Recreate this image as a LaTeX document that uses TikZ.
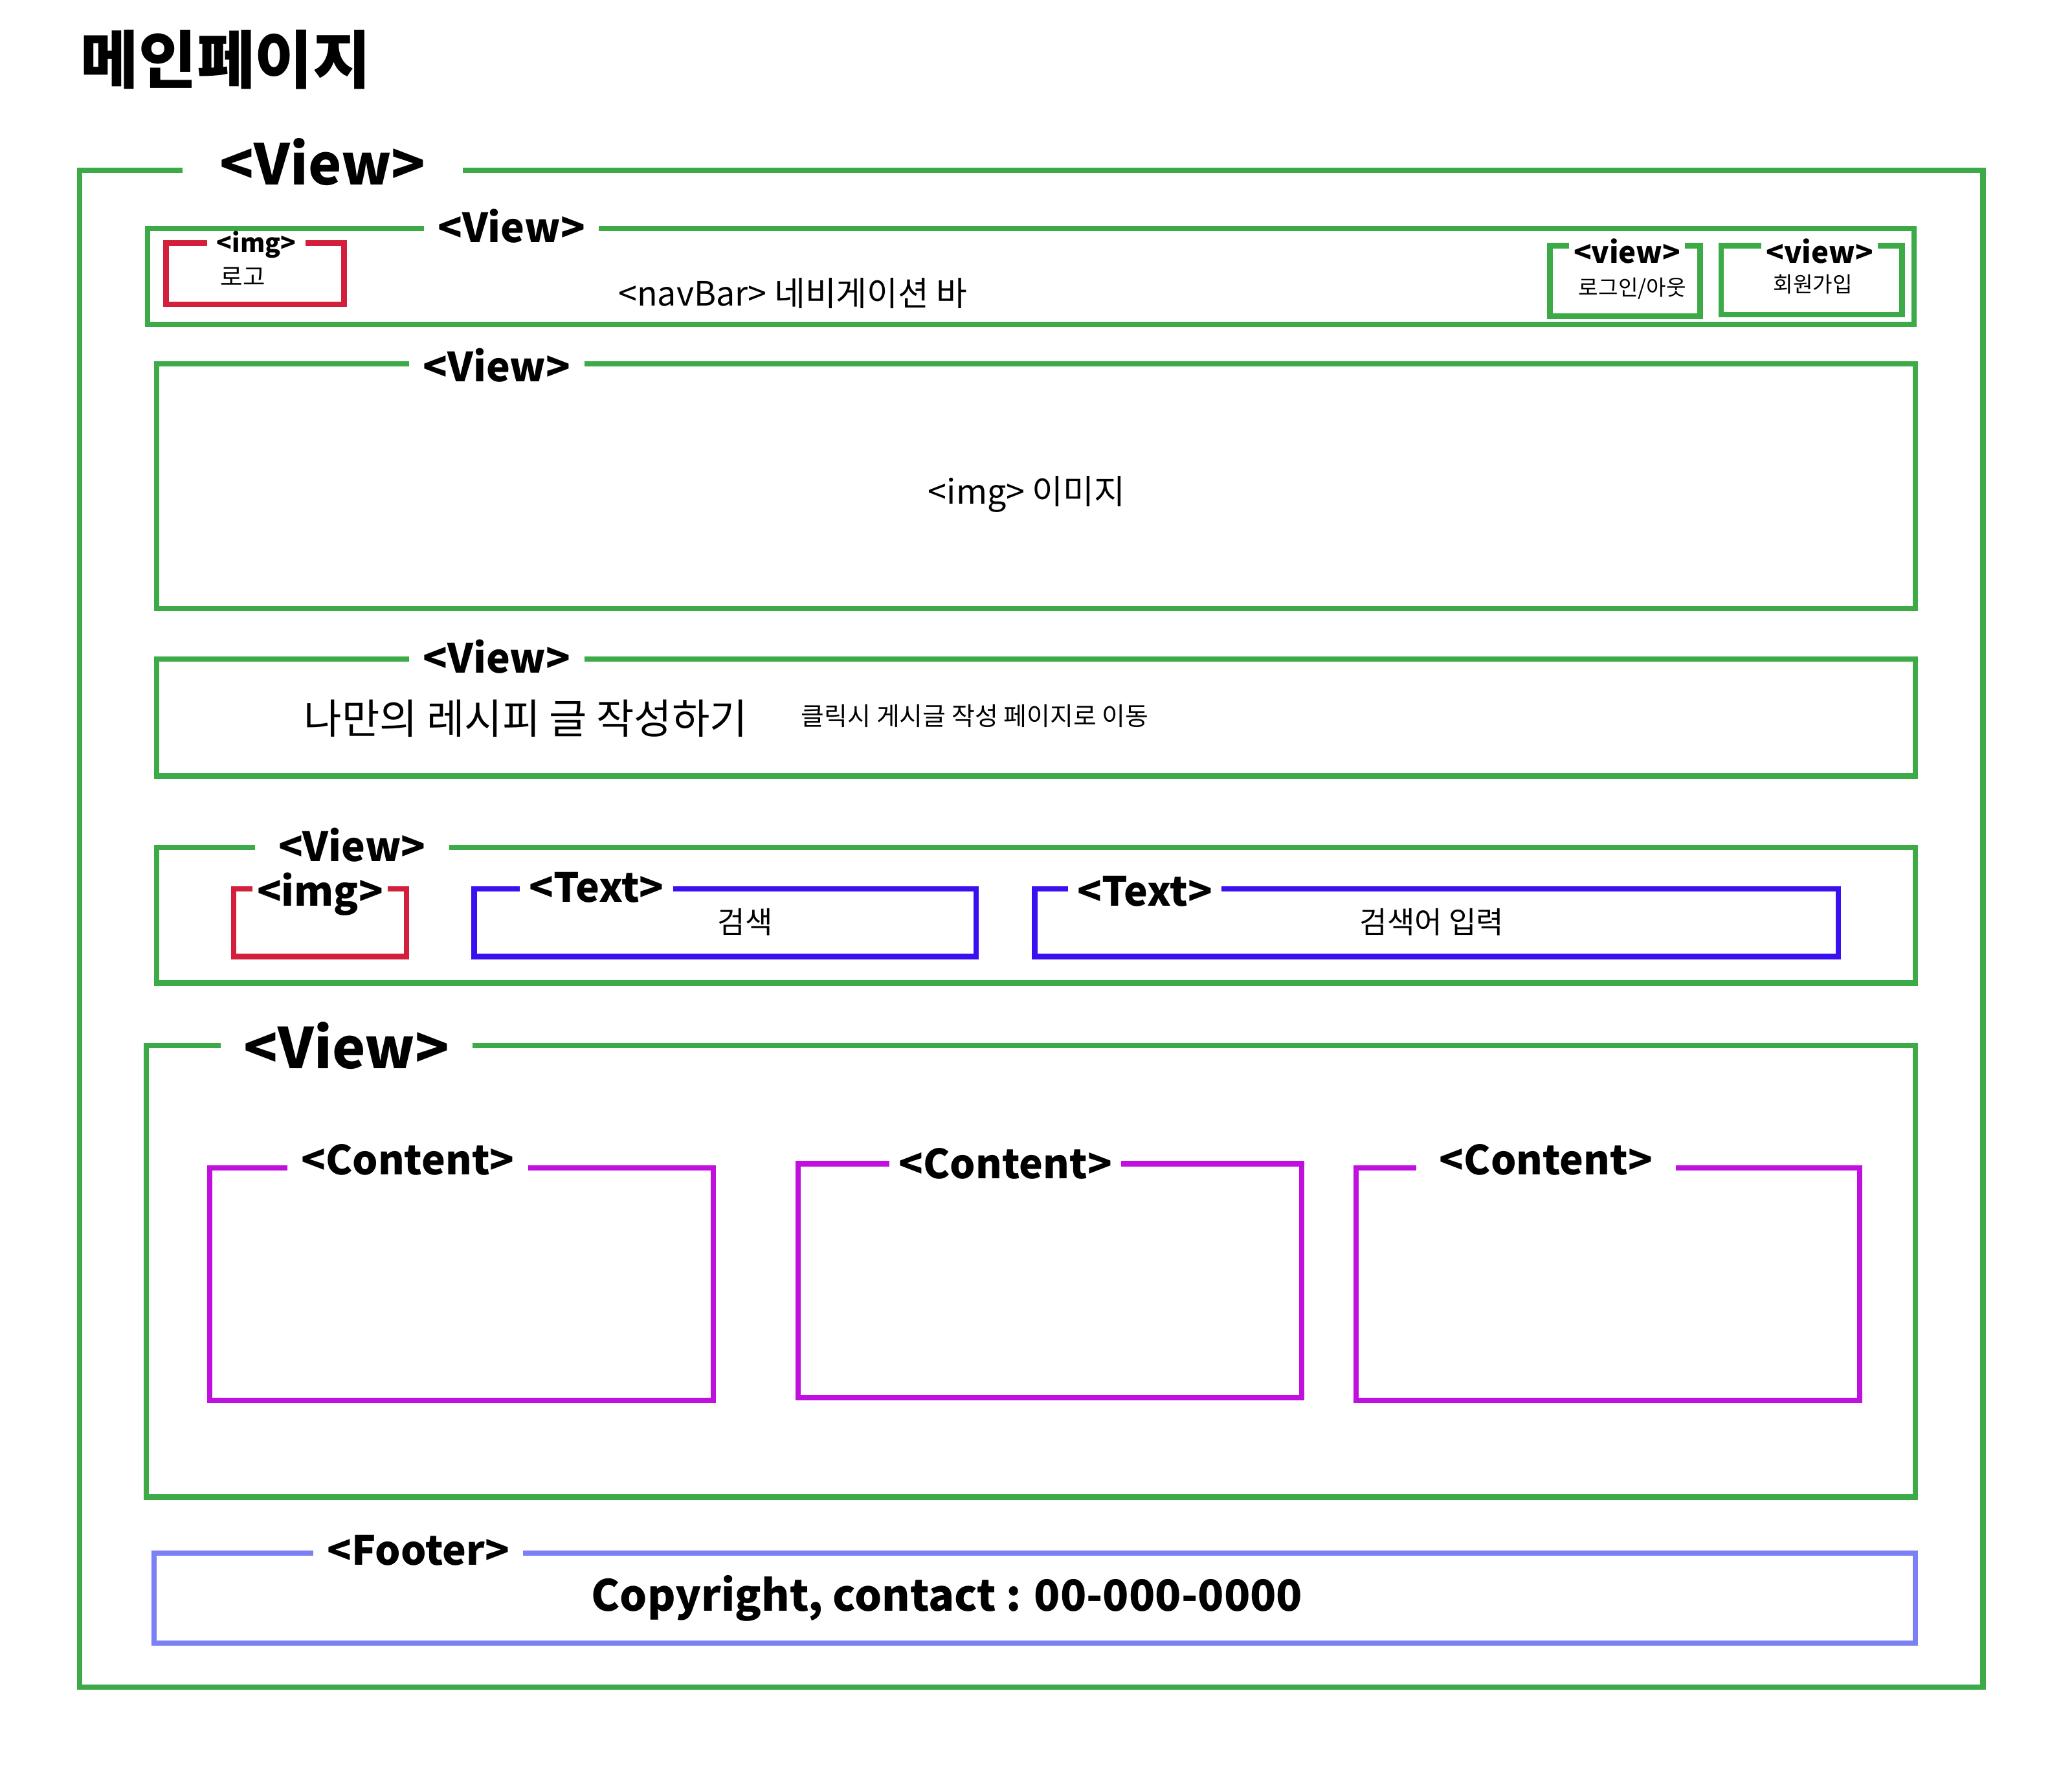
\documentclass[tikz,border=0pt]{standalone}
\usepackage{fontspec}
\setmainfont{Noto Sans CJK KR}
\definecolor{gr}{HTML}{3DAA48}
\definecolor{rd}{HTML}{D21F3C}
\definecolor{bl}{HTML}{3B10F0}
\definecolor{mg}{HTML}{C010DE}
\definecolor{ft}{HTML}{7B80F5}
\tikzset{
 box/.style={draw,line width=1.15pt},
 lbl/.style={fill=white,inner xsep=3pt,inner ysep=0pt,font=\bfseries\fontsize{#1}{#1}\selectfont},
 txt/.style={inner sep=0pt,font=\fontsize{#1}{#1}\selectfont},
}
\begin{document}
\begin{tikzpicture}[x=0.01cm,y=-0.01cm]
\useasboundingbox[fill=white] (0,0) rectangle (1560,1332);
\node[txt=13.5,font=\bfseries\fontsize{13.5}{14}\selectfont] (title) at (170,45) {메인페이지};
% outer
\draw[box,gr] (60,128) rectangle (1493,1270);
\node[lbl=12,inner xsep=8pt] (l0) at (243,122) {<View>};
% nav
\draw[box,gr] (111,172) rectangle (1441,244);
\node[lbl=8.6] (l1) at (385,170) {<View>};
\draw[box,rd] (125,183) rectangle (259,229);
\node[lbl=5.4,inner xsep=2pt] (l1a) at (193,184) {<img>};
\node[txt=5.2] (logo) at (183,208) {로고};
\node[txt=7.2] (nav) at (597,221) {<navBar> 네비게이션 바};
\draw[box,gr] (1167,185) rectangle (1280,238);
\node[lbl=6.3,inner xsep=1pt] (l1b) at (1225,189) {<view>};
\node[txt=4.6] (login) at (1229,217) {로그인/아웃};
\draw[box,gr] (1296,185) rectangle (1432,237);
\node[lbl=6.3,inner xsep=1pt] (l1c) at (1370,189) {<view>};
\node[txt=4.6] (join) at (1365,214) {회원가입};
% image
\draw[box,gr] (118,274) rectangle (1442,458);
\node[lbl=8.6] (l2) at (374,275) {<View>};
\node[txt=7.2] (img) at (773,372) {<img> 이미지};
% write
\draw[box,gr] (118,496) rectangle (1442,584);
\node[lbl=8.6] (l3) at (374,494) {<View>};
\node[txt=8.8] (write) at (396,541) {나만의 레시피 글 작성하기};
\node[txt=5.4] (click) at (734,539) {클릭시 게시글 작성 페이지로 이동};
% search
\draw[box,gr] (118,638) rectangle (1442,740);
\node[lbl=8.6,inner xsep=5pt] (l4) at (265,636) {<View>};
\draw[box,rd] (176,669) rectangle (306,720);
\node[lbl=8.6,inner xsep=1pt] (l4a) at (241,673) {<img>};
\draw[box,bl] (357,669) rectangle (735,720);
\node[lbl=8.6,inner xsep=2pt] (l4b) at (449,668) {<Text>};
\node[txt=6.4] (s1) at (561,694) {검색};
\draw[box,bl] (779,669) rectangle (1384,720);
\node[lbl=8.6,inner xsep=2pt] (l4c) at (862,671) {<Text>};
\node[txt=6.4] (s2) at (1078,694) {검색어 입력};
% contents
\draw[box,gr] (110,787) rectangle (1442,1127);
\node[lbl=12,inner xsep=5pt] (l5) at (261,787) {<View>};
\draw[box,mg] (158,879) rectangle (537,1054);
\node[lbl=8.6] (c1) at (307,873) {<Content>};
\draw[box,mg] (601,876) rectangle (980,1052);
\node[lbl=8.6,inner xsep=2pt] (c2) at (757,876) {<Content>};
\draw[box,mg] (1021,879) rectangle (1400,1054);
\node[lbl=8.6,inner xsep=5pt] (c3) at (1164,873) {<Content>};
% footer
\draw[box,ft] (116,1169) rectangle (1442,1237);
\node[lbl=8.6,inner xsep=3pt] (l6) at (315,1167) {<Footer>};
\node[txt=9.2,font=\bfseries\fontsize{9.2}{10}\selectfont] (copy) at (713,1203) {Copyright, contact : 00-000-0000};
\end{tikzpicture}
\end{document}
